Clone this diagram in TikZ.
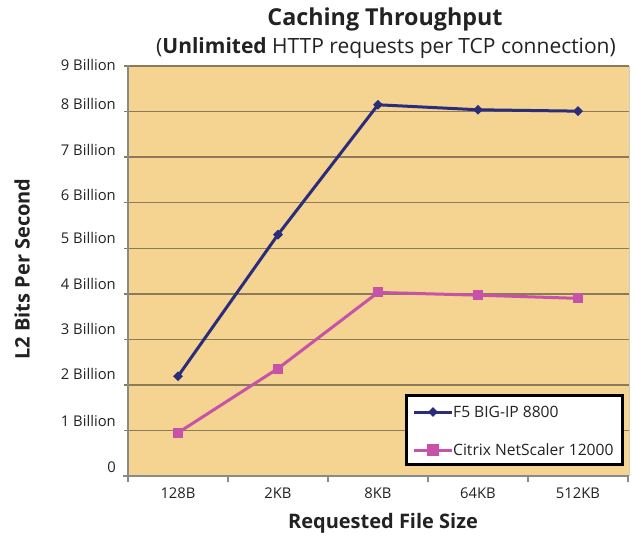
\documentclass[tikz,border=0pt]{standalone}
\usepackage{fontspec}
\setmainfont{Open Sans}
\usetikzlibrary{shapes.geometric,calc}
\definecolor{plotbg}{HTML}{F5D391}
\definecolor{gridc}{HTML}{8C7A58}
\definecolor{axisc}{HTML}{8A8A8A}
\definecolor{navyc}{HTML}{2A2C7C}
\definecolor{magc}{HTML}{C653A9}
\definecolor{textc}{HTML}{222222}
\tikzset{
  ticklab/.style={font=\fontsize{14.8}{17}\selectfont, text=textc, inner sep=0pt},
  gridline/.style={draw=gridc, line width=1.4pt},
  fline/.style={draw=navyc, line width=3pt, line join=round},
  cline/.style={draw=magc, line width=3pt, line join=round},
  fmark/.style={diamond, fill=navyc, inner sep=0pt, minimum width=10pt, minimum height=10pt},
  cmark/.style={rectangle, fill=magc, inner sep=0pt, minimum size=10pt},
  legtext/.style={font=\fontsize{15.6}{18}\selectfont, text=textc, inner sep=0pt, anchor=west},
}
\begin{document}
\begin{tikzpicture}[x=1pt,y=-1pt]
\useasboundingbox (0,0) rectangle (634,539);
% plot area
\fill[plotbg] (128,66) rectangle (629,476);
\draw[draw=gray!40, line width=1pt] (128,66) -- (629,66) -- (629,476);
% grid lines
\foreach \v in {1,...,9} {
  \draw[gridline] (124,{476-45.55*\v}) -- (629,{476-45.55*\v});
}
% axes
\draw[axisc, line width=2pt] (128,65) -- (128,477);
\draw[axisc, line width=1.8pt] (123,476) -- (629,476);
\foreach \x in {128,228,328,428,528,628} {
  \draw[axisc, line width=1.4pt] (\x,476) -- (\x,482);
}
% y tick labels
\foreach \v/\yy/\t in {0/467/0,1/421/1 Billion,2/374/2 Billion,3/329/3 Billion,4/284/4 Billion,5/238/5 Billion,6/195/6 Billion,7/150/7 Billion,8/104/8 Billion,9/65/9 Billion} {
  \node[ticklab, anchor=east] (yl\v) at (116,\yy) {\t};
}
% x tick labels
\node[ticklab] (xl1) at (178,493) {128B};
\node[ticklab] (xl2) at (278,493) {2KB};
\node[ticklab] (xl3) at (378,493) {8KB};
\node[ticklab] (xl4) at (478,493) {64KB};
\node[ticklab] (xl5) at (578,493) {512KB};
% titles
\node[font=\fontsize{23.3}{27}\bfseries\selectfont, text=textc] (title) at (385,19) {Caching Throughput};
\node[font=\fontsize{21}{24}\selectfont, text=textc] (subtitle) at (386,48) {(\textbf{Unlimited} HTTP requests per TCP connection)};
\node[font=\fontsize{20}{23}\bfseries\selectfont, text=textc, rotate=90] (ylabel) at (22,269) {L2 Bits Per Second};
\node[font=\fontsize{20}{23}\bfseries\selectfont, text=textc] (xlabel) at (383,523) {Requested File Size};
% data points
\foreach \n/\x/\v in {f1/178/2.19,f2/278/5.30,f3/378/8.15,f4/478/8.04,f5/578/8.01} {
  \coordinate (\n) at (\x,{476-45.55*\v});
}
\foreach \n/\x/\v in {c1/178/0.95,c2/278/2.36,c3/378/4.03,c4/478/3.97,c5/578/3.90} {
  \coordinate (\n) at (\x,{476-45.55*\v});
}
\draw[cline] (c1) -- (c2) -- (c3) -- (c4) -- (c5);
\draw[fline] (f1) -- (f2) -- (f3) -- (f4) -- (f5);
\foreach \n in {c1,c2,c3,c4,c5} { \node[cmark] at (\n) {}; }
\foreach \n in {f1,f2,f3,f4,f5} { \node[fmark] at (\n) {}; }
% legend
\node[draw=black, line width=2.5pt, fill=white, minimum width=216pt, minimum height=69pt, anchor=north west, inner sep=0pt] (legend) at (405,394) {};
\coordinate (la1) at (414,412);
\coordinate (lb1) at (452,412);
\coordinate (la2) at (414,450);
\coordinate (lb2) at (452,450);
\draw[fline] (la1) -- (lb1);
\node[fmark] (lm1) at ($(la1)!0.5!(lb1)$) {};
\draw[cline] (la2) -- (lb2);
\node[cmark, minimum size=12pt] (lm2) at ($(la2)!0.5!(lb2)$) {};
\node[legtext] (lt1) at (453,412) {F5 BIG-IP 8800};
\node[legtext] (lt2) at (453,450) {Citrix NetScaler 12000};
\end{tikzpicture}
\end{document}
